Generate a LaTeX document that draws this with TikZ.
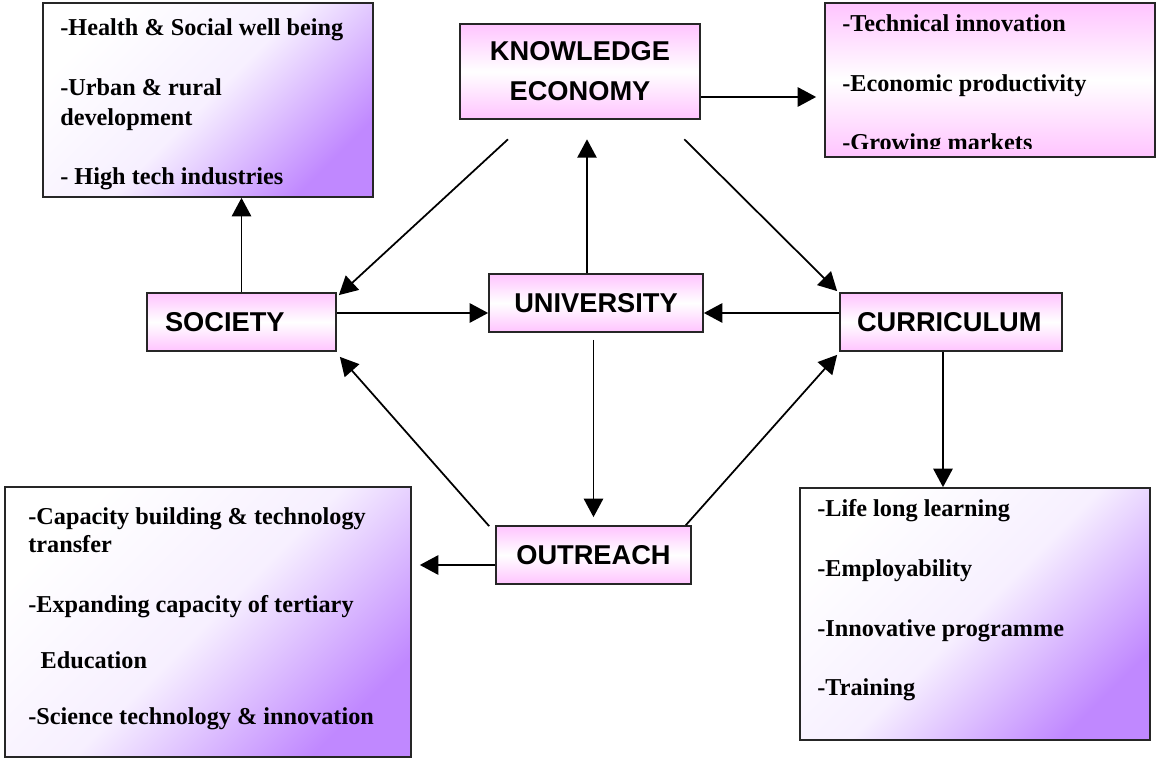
\documentclass[tikz,border=0pt]{standalone}
\usepackage{fontspec}
\setmainfont{Liberation Serif}
\setsansfont{Liberation Sans}
\usepackage{xcolor}
\usetikzlibrary{arrows.meta, positioning, calc}

\definecolor{boxpink}{RGB}{255,196,255}
\definecolor{lilac}{RGB}{192,136,255}

\tikzset{
  hub/.style={draw=black!85, line width=1pt, top color=boxpink, bottom color=boxpink, middle color=white,
    font=\sffamily\bfseries\fontsize{15.5}{22.7}\selectfont, inner sep=0pt},
  goal/.style={draw=black!85, line width=1pt, top color=white, bottom color=lilac, middle color=lilac!13,
    shading angle=45, inner sep=0pt},
  goaltext/.style={anchor=base west, align=left, inner sep=0pt, font=\bfseries\fontsize{13.8}{17}\selectfont},
  flow/.style={-{Triangle[length=10.5pt,width=11pt]}, line width=1pt},
}

\begin{document}
\begin{tikzpicture}[x=0.02cm, y=-0.02cm]
            \useasboundingbox (0,0) rectangle (1157,759);

            % outcome boxes
            \node[goal, minimum width=6.6cm, minimum height=3.88cm] (socgoal) at (208,100) {};
            \node[hub, minimum width=6.6cm, minimum height=3.08cm] (ecogoal) at (990,80) {};
            \node[goal, minimum width=8.12cm, minimum height=5.4cm] (outgoal) at (208,622) {};
            \node[goal, minimum width=7cm, minimum height=5.04cm] (curgoal) at (975,614) {};

            % texts sit on the baseline of their last line
            \node[goaltext] (socgoaltxt) at (60,185) {-Health \& Social well being\\[17pt]-Urban \& rural\\development\\[17pt]- High tech industries};
            \begin{scope}
                \clip ($(ecogoal.north west)+(1,1)$) rectangle ($(ecogoal.south east)+(-1,-9)$);
                \node[goaltext] (ecogoaltxt) at (842,151) {-Technical innovation\\[17pt]-Economic productivity\\[17pt]-Growing markets};
            \end{scope}
            \node[goaltext, font=\bfseries\fontsize{13.8}{16}\selectfont] (outgoaltxt) at (28,725) {-Capacity building \& technology\\transfer\\[18pt]-Expanding capacity of tertiary\\[16pt]\hspace*{7pt}Education\\[16pt]-Science technology \& innovation};
            \node[goaltext] (curgoaltxt) at (817,696) {-Life long learning\\[17pt]-Employability\\[17pt]-Innovative programme\\[17pt]-Training};

            % main boxes
            \node[hub, line width=1.5pt, minimum width=4.8cm, minimum height=1.9cm, align=center] (ke) at (580,71.5) {KNOWLEDGE\\ECONOMY};
            \node[hub, minimum width=3.78cm, minimum height=1.16cm, text width=3.06cm, inner xsep=0.36cm, align=left] (soc) at (241.5,322) {SOCIETY};
            \node[hub, minimum width=4.28cm, minimum height=1.16cm] (univ) at (596,303) {UNIVERSITY};
            \node[hub, minimum width=4.44cm, minimum height=1.16cm, text width=3.76cm, inner xsep=0.34cm, align=left] (curr) at (951,322) {CURRICULUM};
            \node[hub, minimum width=3.9cm, minimum height=1.16cm] (outr) at (593.5,555) {OUTREACH};

            \coordinate (keout) at ($(ke.east)+(0,25.5)$);
            \coordinate (outleft) at ($(outr.west)+(0,10)$);

            % arrows
            \draw[flow] (soc.north) -- (soc.north |- socgoal.south);
            \draw[flow, shorten >=0.16cm] (keout) -- (keout -| ecogoal.west);
            \draw[flow, shorten >=0.38cm] ($(univ.north)+(-9,0)$) -- ($(ke.south)+(7,0)$);
            \draw[flow, shorten <=0.14cm, shorten >=0.16cm] (univ.south -| outr.north) -- (outr.north);
            \draw[flow] ($(soc.east)+(0,-9)$) -- ($(univ.west)+(0,10)$);
            \draw[flow] ($(curr.west)+(0,-9)$) -- ($(univ.east)+(0,10)$);
            \draw[flow] ($(curr.south)+(-8,0)$) -- ($(curgoal.north)+(-32,0)$);
            \draw[flow, shorten >=0.16cm] (outleft) -- (outleft -| outgoal.east);
            \draw[flow] ($(ke.south)+(-72,19)$) -- ($(soc.north east)+(2,3)$);
            \draw[flow] ($(ke.south east)+(-17,19)$) -- ($(curr.north west)+(-2,-1)$);
            \draw[flow] ($(outr.north west)+(-6,1)$) -- ($(soc.south east)+(3,5)$);
            \draw[flow] ($(outr.north east)+(-6,0)$) -- ($(curr.south west)+(-2,3)$);
        \end{tikzpicture}
\end{document}
